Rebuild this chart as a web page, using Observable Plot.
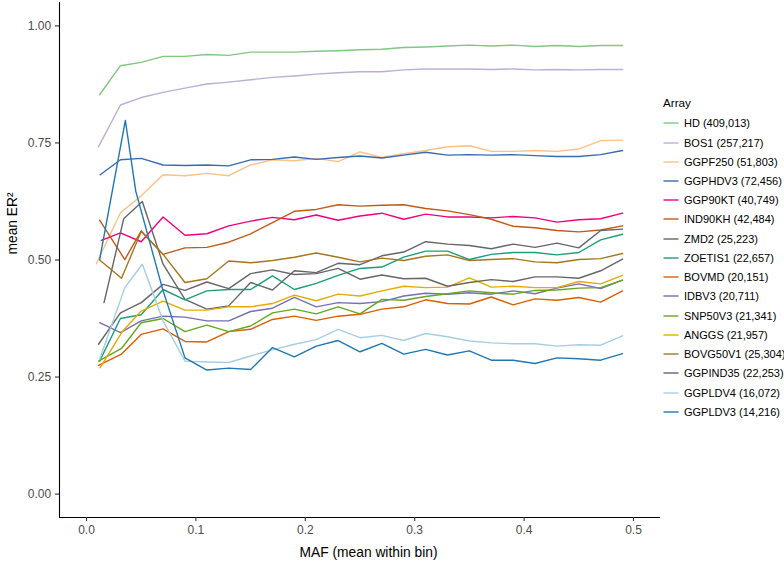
<!DOCTYPE html>
<html>
<head>
<meta charset="utf-8">
<script src="https://cdn.jsdelivr.net/npm/d3@7"></script>
<script src="https://cdn.jsdelivr.net/npm/@observablehq/plot@0.6"></script>
<style>
  body { margin: 0; background: #fff; font-family: "Liberation Sans", Arial, sans-serif; }
  #wrap { position: relative; width: 784px; height: 561px; }
  #legend { position: absolute; left: 0; top: 0; width: 784px; height: 561px; pointer-events: none; }
  .lg-title { position: absolute; left: 663px; font-size: 11.7px; color: #000; line-height: 14px; }
  .lg-item { position: absolute; left: 663px; height: 14px; line-height: 14px; font-size: 11px; color: #000; white-space: nowrap; }
  .lg-sw { position: absolute; left: 0; top: 0; width: 16px; height: 14px; overflow: visible; }
  .lg-tx { position: absolute; left: 21px; top: 0; }
</style>
</head>
<body>
<div id="wrap"><div id="legend"></div></div>
<script>
const arrays = ["HD","BOS1","GGPF250","GGPHDV3","GGP90KT","IND90KH","ZMD2","ZOETIS1","BOVMD","IDBV3","SNP50V3","ANGGS","BOVG50V1","GGPIND35","GGPLDV4","GGPLDV3"];
const snpCounts = ["409,013","257,217","51,803","72,456","40,749","42,484","25,223","22,657","20,151","20,711","21,341","21,957","25,304","22,253","16,072","14,216"];
const colors = ["#7fc97f","#beaed4","#fdc086","#386cb0","#f0027f","#bf5b17","#666666","#1b9e77","#d95f02","#7570b3","#66a61e","#e6ab02","#a6761d","#666666","#a6cee3","#1f78b4"];

// MAF of the first three bins per array (means differ slightly between arrays)
const lowMaf = [
  [0.012,0.031,0.05],[0.011,0.031,0.05],[0.009,0.031,0.05],[0.0125,0.031,0.05],
  [0.0135,0.031,0.05],[0.012,0.035,0.05],[0.016,0.034,0.051],[0.012,0.031,0.05],
  [0.011,0.032,0.05],[0.012,0.031,0.05],[0.011,0.032,0.05],[0.0125,0.033,0.05],
  [0.012,0.032,0.05],[0.011,0.031,0.05],[0.012,0.035,0.051],[0.012,0.0355,0.045]
];
// MAF of the remaining bins, shared by all arrays
const mafBins = [0.07,0.09,0.11,0.13,0.15,0.17,0.19,0.21,0.23,0.25,0.27,0.29,0.31,0.33,0.35,0.37,0.39,0.41,0.43,0.45,0.47,0.49];

const erHD       = [0.853,0.915,0.922,0.935,0.935,0.939,0.937,0.944,0.944,0.944,0.946,0.947,0.949,0.950,0.954,0.955,0.957,0.959,0.957,0.959,0.956,0.958,0.956,0.958,0.958];
const erBOS1     = [0.742,0.831,0.847,0.858,0.867,0.876,0.880,0.885,0.890,0.893,0.897,0.900,0.902,0.902,0.906,0.908,0.908,0.908,0.907,0.908,0.906,0.907,0.906,0.907,0.907];
const erGGPF250  = [0.492,0.601,0.637,0.682,0.680,0.685,0.680,0.703,0.714,0.712,0.717,0.710,0.731,0.719,0.727,0.734,0.742,0.744,0.732,0.732,0.734,0.732,0.737,0.755,0.756];
const erGGPHDV3  = [0.682,0.714,0.717,0.703,0.702,0.703,0.701,0.714,0.715,0.720,0.715,0.719,0.722,0.718,0.724,0.730,0.724,0.725,0.724,0.725,0.723,0.721,0.721,0.725,0.734];
const erGGP90KT  = [0.542,0.558,0.539,0.592,0.553,0.556,0.573,0.583,0.591,0.586,0.596,0.585,0.594,0.600,0.587,0.598,0.592,0.592,0.590,0.593,0.590,0.581,0.586,0.588,0.600];
const erIND90KH  = [0.585,0.501,0.562,0.512,0.526,0.527,0.538,0.556,0.580,0.604,0.608,0.618,0.615,0.617,0.618,0.610,0.605,0.597,0.587,0.572,0.569,0.563,0.560,0.564,0.573];
const erZMD2     = [0.409,0.588,0.625,0.491,0.416,0.395,0.402,0.452,0.436,0.477,0.473,0.493,0.490,0.509,0.517,0.539,0.534,0.531,0.524,0.534,0.527,0.536,0.526,0.563,0.566];
const erZOETIS1  = [0.284,0.375,0.383,0.437,0.415,0.434,0.437,0.437,0.466,0.437,0.450,0.467,0.482,0.485,0.506,0.519,0.519,0.501,0.512,0.516,0.516,0.511,0.516,0.543,0.555];
const erBOVMD    = [0.275,0.299,0.341,0.353,0.326,0.325,0.347,0.352,0.373,0.380,0.371,0.380,0.384,0.395,0.400,0.415,0.407,0.406,0.421,0.404,0.417,0.414,0.420,0.410,0.434];
const erIDBV3    = [0.366,0.345,0.370,0.380,0.378,0.370,0.370,0.390,0.397,0.420,0.400,0.409,0.407,0.411,0.423,0.429,0.427,0.430,0.427,0.434,0.428,0.440,0.449,0.439,0.457];
const erSNP50V3  = [0.284,0.311,0.366,0.375,0.347,0.361,0.347,0.359,0.387,0.395,0.385,0.400,0.385,0.416,0.414,0.422,0.428,0.434,0.430,0.427,0.435,0.436,0.440,0.441,0.457];
const erANGGS    = [0.270,0.348,0.391,0.412,0.393,0.393,0.400,0.400,0.407,0.425,0.413,0.427,0.423,0.434,0.444,0.441,0.442,0.462,0.442,0.444,0.441,0.441,0.454,0.449,0.467];
const erBOVG50V1 = [0.500,0.461,0.561,0.512,0.452,0.460,0.498,0.494,0.499,0.506,0.515,0.506,0.496,0.504,0.499,0.508,0.511,0.499,0.501,0.503,0.496,0.494,0.501,0.503,0.514];
const erGGPIND35 = [0.320,0.387,0.409,0.448,0.435,0.453,0.439,0.471,0.479,0.469,0.471,0.482,0.459,0.468,0.460,0.461,0.444,0.452,0.458,0.454,0.464,0.464,0.461,0.477,0.502];
const erGGPLDV4  = [0.288,0.441,0.491,0.370,0.284,0.282,0.281,0.295,0.308,0.320,0.330,0.352,0.334,0.339,0.328,0.343,0.336,0.327,0.323,0.321,0.321,0.316,0.319,0.318,0.338];
const erGGPLDV3  = [0.501,0.798,0.647,0.434,0.291,0.265,0.269,0.266,0.313,0.293,0.316,0.328,0.304,0.322,0.299,0.309,0.297,0.306,0.286,0.286,0.279,0.291,0.289,0.286,0.300];

const series = [erHD,erBOS1,erGGPF250,erGGPHDV3,erGGP90KT,erIND90KH,erZMD2,erZOETIS1,erBOVMD,erIDBV3,erSNP50V3,erANGGS,erBOVG50V1,erGGPIND35,erGGPLDV4,erGGPLDV3];

const yTicks = [0, 0.25, 0.5, 0.75, 1];
const xTicks = [0, 0.1, 0.2, 0.3, 0.4, 0.5];
const xDomain = [-0.0247, 0.5247];
const yDomain = [-0.05, 1.05];

const rows = arrays.flatMap((name, i) =>
  series[i].map((er, j) => ({array: name, maf: j < 3 ? lowMaf[i][j] : mafBins[j - 3], er}))
);

const chart = Plot.plot({
  width: 784,
  height: 561,
  marginLeft: 59,
  marginRight: 124,
  marginTop: 2,
  marginBottom: 44,
  style: {fontFamily: "'Liberation Sans', Arial, sans-serif", fontSize: "12px", background: "#fff", overflow: "visible"},
  x: {domain: xDomain},
  y: {domain: yDomain},
  color: {domain: arrays, range: colors},
  marks: [
    Plot.line(rows, {x: "maf", y: "er", z: "array", stroke: "array", strokeWidth: 1.4}),
    Plot.ruleY([yDomain[0]], {stroke: "#000", strokeWidth: 1.1}),
    Plot.ruleX([xDomain[0]], {stroke: "#000", strokeWidth: 1.1}),
    Plot.axisY(yTicks, {tickSize: 4, tickPadding: 4.3, tickFormat: d3.format(".2f"), label: null, stroke: "#333", fill: "#4d4d4d", strokeWidth: 1.1}),
    Plot.axisX(xTicks, {tickSize: 4, tickPadding: 4, tickFormat: d3.format(".1f"), label: null, stroke: "#333", fill: "#4d4d4d", strokeWidth: 1.1}),
    Plot.text(["MAF (mean within bin)"], {frameAnchor: "bottom", dx: 8.5, dy: 39, lineAnchor: "bottom", fontSize: 13.8, fill: "#000"}),
    Plot.text(["mean ER²"], {frameAnchor: "left", dx: -42.3, dy: -5.5, rotate: -90, lineAnchor: "bottom", fontSize: 13.8, fill: "#000"})
  ]
});
const wrap = document.getElementById("wrap");
wrap.insertBefore(chart, wrap.firstChild);

// legend (right side)
const svgNS = "http://www.w3.org/2000/svg";
const legend = document.getElementById("legend");
const title = document.createElement("div");
title.className = "lg-title";
title.style.top = (103 - 7) + "px";
title.textContent = "Array";
legend.appendChild(title);
arrays.forEach((name, i) => {
  const item = document.createElement("div");
  item.className = "lg-item";
  item.style.top = (123.3 + i * 19.23 - 7) + "px";
  const sw = document.createElementNS(svgNS, "svg");
  sw.setAttribute("class", "lg-sw");
  sw.setAttribute("width", "16");
  sw.setAttribute("height", "14");
  const ln = document.createElementNS(svgNS, "line");
  ln.setAttribute("x1", "0.5");
  ln.setAttribute("x2", "15.5");
  ln.setAttribute("y1", "7");
  ln.setAttribute("y2", "7");
  ln.setAttribute("stroke", colors[i]);
  ln.setAttribute("stroke-width", "1.4");
  sw.appendChild(ln);
  const tx = document.createElement("div");
  tx.className = "lg-tx";
  tx.textContent = `${name} (${snpCounts[i]})`;
  item.appendChild(sw);
  item.appendChild(tx);
  legend.appendChild(item);
});
</script>
</body>
</html>
